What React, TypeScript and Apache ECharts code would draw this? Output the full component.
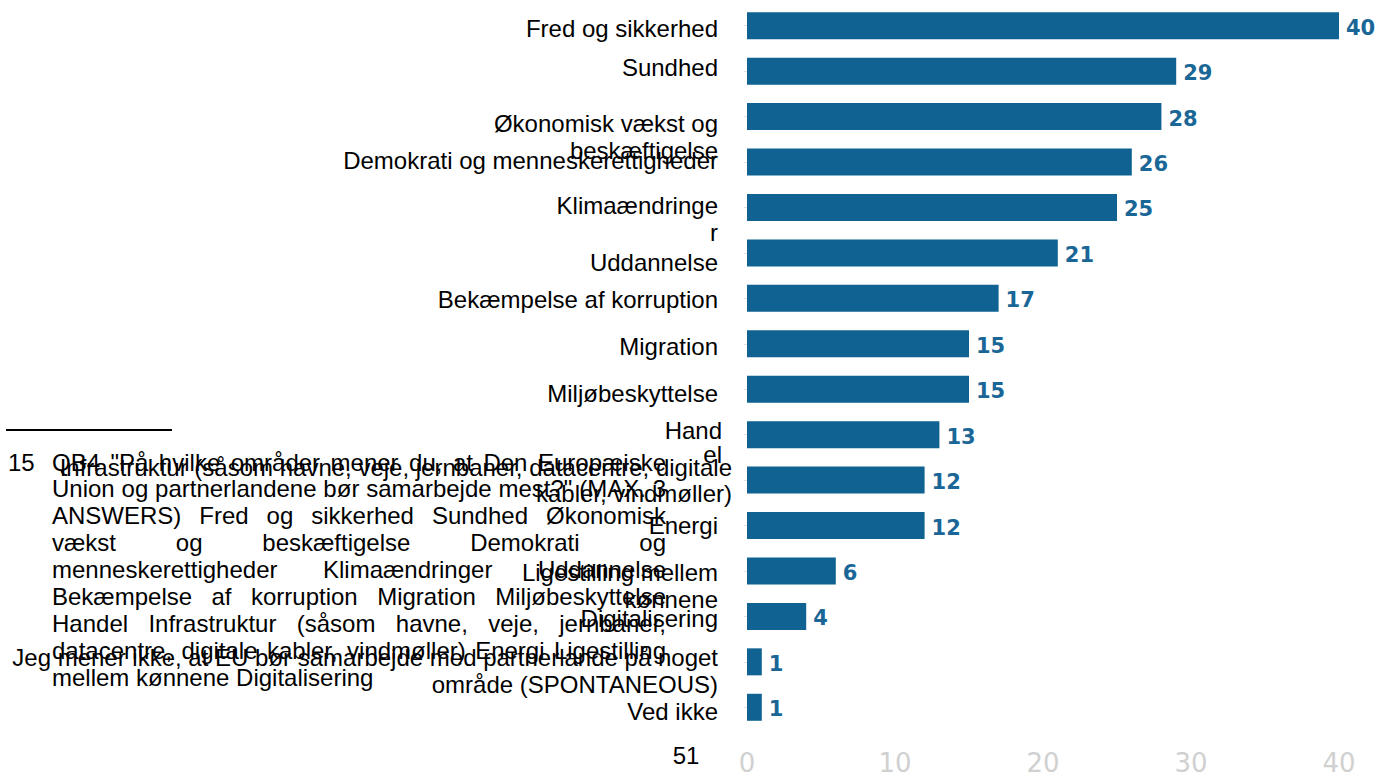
import React, { useEffect, useRef } from "react";
import * as echarts from "echarts";

const categories = [
  "Fred og sikkerhed",
  "Sundhed",
  "Økonomisk vækst og beskæftigelse",
  "Demokrati og menneskerettigheder",
  "Klimaændringer",
  "Uddannelse",
  "Bekæmpelse af korruption",
  "Migration",
  "Miljøbeskyttelse",
  "Handel",
  "Infrastruktur (såsom havne, veje, jernbaner, datacentre, digitale kabler, vindmøller)",
  "Energi",
  "Ligestilling mellem kønnene",
  "Digitalisering",
  "Jeg mener ikke, at EU bør samarbejde med partnerlande på noget område (SPONTANEOUS)",
  "Ved ikke",
];

const values = [40, 29, 28, 26, 25, 21, 17, 15, 15, 13, 12, 12, 6, 4, 1, 1];

const categoryLabelLines = [
  ["Fred og sikkerhed"],
  ["Sundhed"],
  ["Økonomisk vækst og", "beskæftigelse"],
  ["Demokrati og menneskerettigheder"],
  ["Klimaændringe", "r"],
  ["Uddannelse"],
  ["Bekæmpelse af korruption"],
  ["Migration"],
  ["Miljøbeskyttelse"],
  ["Hand", "el"],
  ["Infrastruktur (såsom havne, veje, jernbaner, datacentre, digitale", "kabler, vindmøller)"],
  ["Energi"],
  ["Ligestilling mellem", "kønnene"],
  ["Digitalisering"],
  ["Jeg mener ikke, at EU bør samarbejde med partnerlande på noget", "område (SPONTANEOUS)"],
  ["Ved ikke"],
];

const xTicks = [0, 10, 20, 30, 40];

const footnoteNumber = "15";
const footnoteLines = [
  "QB4 \"På hvilke områder mener du, at Den Europæiske",
  "Union og partnerlandene bør samarbejde mest?\" (MAX. 3",
  "ANSWERS) Fred og sikkerhed Sundhed Økonomisk",
  "vækst og beskæftigelse Demokrati og",
  "menneskerettigheder Klimaændringer Uddannelse",
  "Bekæmpelse af korruption Migration Miljøbeskyttelse",
  "Handel Infrastruktur (såsom havne, veje, jernbaner,",
  "datacentre, digitale kabler, vindmøller) Energi Ligestilling",
  "mellem kønnene Digitalisering",
];
const pageNumber = "51";

// layout (not data)
const labelFirstLineOffset = [3, -4, 7, -1.5, -1.5, 9.5, 1, 3, 4, -4, -13, -0.5, 1.5, 2.5, -4, 4];
const labelLineGap = [27, 27, 27, 27, 27, 27, 27, 27, 27, 24, 26, 27, 27, 27, 27, 27];
const labelRight = [718, 718, 718, 718, 718, 718, 718, 718, 718, 722, 732, 718, 718, 718, 718, 718];

const LABEL_FONT = "'Liberation Sans', Arial, sans-serif";

export default function App() {
  const ref = useRef<HTMLDivElement>(null);

  useEffect(() => {
    if (!ref.current) return;
    const chart = echarts.init(ref.current, null, { renderer: "svg" });
    chart.setOption({
      animation: false,
      backgroundColor: "#ffffff",
      grid: { left: 747, right: 50, top: 3, bottom: 39, containLabel: false },
      xAxis: {
        type: "value",
        min: xTicks[0],
        max: xTicks[xTicks.length - 1],
        interval: 10,
        splitLine: { show: false },
        axisLine: { show: false },
        axisTick: { show: false },
        axisLabel: {
          color: "#d0d0d0",
          fontSize: 26,
          fontFamily: "'DejaVu Sans', sans-serif",
          margin: 20,
        },
      },
      yAxis: {
        type: "category",
        data: categories,
        inverse: true,
        offset: 6,
        axisLine: { show: false },
        axisTick: { show: true, alignWithLabel: true, length: 3, lineStyle: { color: "#e0e0e0" } },
        axisLabel: { show: false },
      },
      series: [
        {
          type: "bar",
          data: values,
          barWidth: 27,
          itemStyle: { color: "#0f6291" },
          label: {
            show: true,
            position: "right",
            distance: 7,
            offset: [0, 2],
            color: "#1a6797",
            fontFamily: "'DejaVu Sans', sans-serif",
            fontWeight: "bold",
            fontSize: 21,
          },
        },
      ],
    });

    const graphics: any[] = [];
    categoryLabelLines.forEach((lines, i) => {
      const cy = chart.convertToPixel({ yAxisIndex: 0 }, categories[i]) as number;
      lines.forEach((line, k) => {
        graphics.push({
          type: "text",
          x: labelRight[i],
          y: cy + labelFirstLineOffset[i] + k * labelLineGap[i],
          style: {
            text: line,
            fill: "#000000",
            fontSize: 24,
            fontFamily: LABEL_FONT,
            align: "right",
            verticalAlign: "middle",
          },
          z: 10,
        });
      });
    });

    // footnote separator
    graphics.push({
      type: "line",
      shape: { x1: 6, y1: 430, x2: 172, y2: 430 },
      style: { stroke: "#000000", lineWidth: 2 },
    });
    graphics.push({
      type: "text",
      x: 8,
      y: 462,
      style: { text: footnoteNumber, fill: "#000", fontSize: 24, fontFamily: LABEL_FONT, verticalAlign: "middle" },
    });

    const canvas = document.createElement("canvas");
    const ctx = canvas.getContext("2d")!;
    ctx.font = "24px 'Liberation Sans'";
    const left = 52;
    const right = 666;
    const spaceW = ctx.measureText(" ").width;
    footnoteLines.forEach((line, li) => {
      const words = line.split(" ");
      const widths = words.map((w) => ctx.measureText(w).width);
      const total = widths.reduce((a, b) => a + b, 0);
      const last = li === footnoteLines.length - 1;
      const gap = last || words.length < 2 ? spaceW : Math.max(2, (right - left - total) / (words.length - 1));
      let x = left;
      const y = 462 + li * 26.9;
      words.forEach((w, wi) => {
        graphics.push({
          type: "text",
          x,
          y,
          style: { text: w, fill: "#000", fontSize: 24, fontFamily: LABEL_FONT, verticalAlign: "middle" },
        });
        x += widths[wi] + gap;
      });
    });

    graphics.push({
      type: "text",
      x: 686,
      y: 755,
      style: { text: pageNumber, fill: "#000", fontSize: 24, fontFamily: LABEL_FONT, align: "center", verticalAlign: "middle" },
    });

    chart.setOption({ graphic: graphics });

    return () => chart.dispose();
  }, []);

  return (
    <div
      ref={ref}
      style={{ position: "fixed", left: 0, top: 0, width: 1389, height: 776, background: "#fff" }}
    />
  );
}
